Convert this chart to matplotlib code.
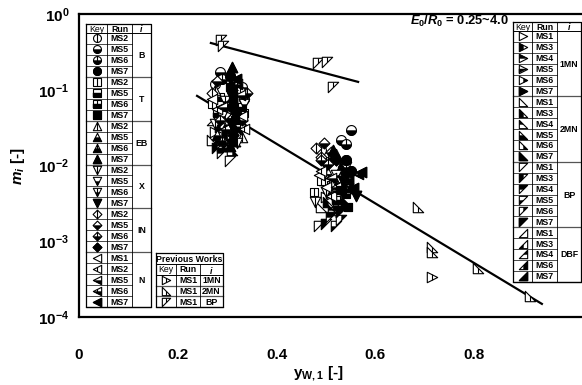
import numpy as np
import matplotlib
matplotlib.use('Agg')
import matplotlib.pyplot as plt
from matplotlib.path import Path
from matplotlib.ticker import NullLocator

# ---- data ----
# current work, left key table (shape by i, fill by run)
b_runs = ['MS2', 'MS5', 'MS6', 'MS7']
b_x = [[0.275, 0.335, 0.49, 0.50], [0.285, 0.33, 0.55, 0.53],
       [0.29, 0.335, 0.54, 0.515], [0.305, 0.31, 0.31, 0.54, 0.55]]
b_y = [[0.12, 0.09, 0.016, 0.011], [0.17, 0.11, 0.029, 0.022],
       [0.14, 0.075, 0.019, 0.013], [0.15, 0.06, 0.10, 0.012, 0.0085]]

t_runs = ['MS2', 'MS5', 'MS6', 'MS7']
t_x = [[0.27, 0.335, 0.475, 0.49], [0.28, 0.325, 0.51, 0.52],
       [0.285, 0.33, 0.525, 0.54], [0.305, 0.315, 0.312, 0.53, 0.545]]
t_y = [[0.065, 0.05, 0.0045, 0.0062], [0.05, 0.035, 0.0055, 0.0035],
       [0.08, 0.06, 0.007, 0.0042], [0.11, 0.04, 0.075, 0.0048, 0.0028]]

eb_runs = ['MS2', 'MS5', 'MS6', 'MS7']
eb_x = [[0.275, 0.33, 0.50, 0.51], [0.28, 0.30, 0.52, 0.53],
        [0.29, 0.31, 0.535, 0.545], [0.31, 0.305, 0.315, 0.515, 0.55]]
eb_y = [[0.10, 0.024, 0.009, 0.0058], [0.025, 0.035, 0.014, 0.0095],
        [0.022, 0.13, 0.011, 0.0068], [0.20, 0.018, 0.045, 0.016, 0.0052]]

x_runs = ['MS2', 'MS5', 'MS6', 'MS7']
x_x = [[0.275, 0.32, 0.478, 0.50], [0.29, 0.335, 0.50, 0.52],
       [0.295, 0.325, 0.54, 0.53], [0.31, 0.315, 0.308, 0.535, 0.56]]
x_y = [[0.035, 0.02, 0.0033, 0.0045], [0.045, 0.065, 0.010, 0.0075],
       [0.07, 0.03, 0.0095, 0.006], [0.08, 0.028, 0.035, 0.0062, 0.004]]

in_runs = ['MS2', 'MS5', 'MS6', 'MS7']
in_x = [[0.27, 0.325, 0.48, 0.49], [0.28, 0.33, 0.495, 0.51],
        [0.285, 0.34, 0.49, 0.505], [0.31, 0.318, 0.312, 0.52, 0.54]]
in_y = [[0.09, 0.10, 0.017, 0.013], [0.13, 0.04, 0.020, 0.015],
        [0.04, 0.09, 0.012, 0.0105], [0.10, 0.05, 0.025, 0.012, 0.0078]]

n_runs = ['MS1', 'MS2', 'MS5', 'MS6', 'MS7']
n_x = [[0.27, 0.33, 0.485, 0.50], [0.28, 0.335, 0.49, 0.51],
       [0.29, 0.325, 0.51, 0.52], [0.295, 0.32, 0.52, 0.565],
       [0.31, 0.318, 0.308, 0.57, 0.555]]
n_y = [[0.075, 0.045, 0.0075, 0.0052], [0.055, 0.03, 0.0085, 0.004],
       [0.06, 0.085, 0.0068, 0.0048], [0.03, 0.12, 0.0052, 0.0078],
       [0.07, 0.14, 0.022, 0.0082, 0.005]]

# current work, right key table
mn1_runs = ['MS1', 'MS3', 'MS4', 'MS5', 'MS6', 'MS7']
mn1_x = [[0.275, 0.50], [0.285, 0.51], [0.29, 0.515], [0.30, 0.525], [0.305, 0.53], [0.315, 0.545]]
mn1_y = [[0.028, 0.0038], [0.032, 0.0044], [0.038, 0.0058], [0.024, 0.0038], [0.045, 0.0032], [0.033, 0.0045]]

mn2_runs = ['MS1', 'MS3', 'MS4', 'MS5', 'MS6', 'MS7']
mn2_x = [[0.27, 0.49], [0.285, 0.505], [0.29, 0.515], [0.30, 0.525], [0.31, 0.535], [0.315, 0.54]]
mn2_y = [[0.022, 0.0028], [0.020, 0.0033], [0.018, 0.0026], [0.026, 0.003], [0.016, 0.0036], [0.021, 0.0033]]

bp_runs = ['MS1', 'MS3', 'MS4', 'MS5', 'MS6', 'MS7']
bp_x = [[0.305, 0.485], [0.28, 0.50], [0.29, 0.51], [0.30, 0.52], [0.31, 0.53], [0.30, 0.53]]
bp_y = [[0.0115, 0.0016], [0.017, 0.0017], [0.0145, 0.0021], [0.019, 0.0016], [0.023, 0.0019], [0.027, 0.0024]]

dbf_runs = ['MS1', 'MS3', 'MS4', 'MS6', 'MS7']
dbf_x = [[0.27, 0.495], [0.285, 0.505], [0.30, 0.52], [0.31, 0.53], [0.315, 0.545]]
dbf_y = [[0.04, 0.0064], [0.036, 0.0052], [0.042, 0.0042], [0.05, 0.0056], [0.038, 0.0066]]

# previous works (MS1)
prev_i = ['1MN', '2MN', 'BP']
prev_x = [[0.715], [0.686, 0.715, 0.715, 0.808, 0.913], [0.288, 0.292, 0.484, 0.502, 0.514]]
prev_y = [[3.4e-4], [2.8e-3, 8.4e-4, 7.2e-4, 4.4e-4, 1.9e-4], [0.45, 0.38, 0.225, 0.23, 0.109]]

# fitted lines
fit_hi_x = [0.267, 0.565]
fit_hi_y = [0.414, 0.127]
fit_lo_x = [0.239, 0.937]
fit_lo_y = [0.083, 1.49e-4]

# ---- marker shapes ----
ang = np.linspace(0, 2 * np.pi, 41)[:-1]
SHAPES = {
    'o': list(zip(np.cos(ang), np.sin(ang))),
    's': [(-1, -1), (1, -1), (1, 1), (-1, 1)],
    '^': [(0, 1), (-1, -1), (1, -1)],
    'v': [(0, -1), (1, 1), (-1, 1)],
    'D': [(0, 1), (1, 0), (0, -1), (-1, 0)],
    '<': [(-1, 0), (1, -1), (1, 1)],
    '>': [(1, 0), (-1, 1), (-1, -1)],
    '2MN': [(-1, -1), (1, -1), (-1, 1)],
    'BP': [(-1, 1), (1, 1), (-1, -1)],
    'DBF': [(1, -1), (1, 1), (-1, -1)],
}
SIZE = {'s': 0.85, 'D': 1.05, 'o': 0.95}

LEFT_STYLE = {'MS1': 'open', 'MS2': 'line', 'MS5': 'bottom', 'MS6': 'bline', 'MS7': 'full'}
RIGHT_STYLE = {'MS1': 'open', 'MS3': 'left', 'MS4': 'top', 'MS5': 'bottom', 'MS6': 'right', 'MS7': 'full'}


def poly_path(pts, closed=True):
    verts = list(pts)
    if closed:
        codes = [Path.MOVETO] + [Path.LINETO] * (len(verts) - 1) + [Path.CLOSEPOLY]
        verts = verts + [verts[0]]
    else:
        codes = [Path.MOVETO] + [Path.LINETO] * (len(verts) - 1)
    # keep the same scaling for every part of a marker
    verts = verts + [(1, 1)]
    codes = codes + [Path.MOVETO]
    return Path(verts, codes)


def clip(poly, side):
    f = {'left': lambda p: -p[0], 'right': lambda p: p[0],
         'bottom': lambda p: -p[1], 'top': lambda p: p[1]}[side]
    out = []
    for k in range(len(poly)):
        a, b = poly[k], poly[(k + 1) % len(poly)]
        fa, fb = f(a), f(b)
        if fa >= 0:
            out.append(a)
        if (fa >= 0) != (fb >= 0):
            t = fa / (fa - fb)
            out.append((a[0] + t * (b[0] - a[0]), a[1] + t * (b[1] - a[1])))
    return out


def vseg(poly):
    ys = []
    for a, b in zip(poly, poly[1:] + poly[:1]):
        if a[0] != b[0] and a[0] * b[0] <= 0:
            t = -a[0] / (b[0] - a[0])
            ys.append(a[1] + t * (b[1] - a[1]))
    return [(0, min(ys)), (0, max(ys))]


def draw(ax, x, y, shape, style, ms, z=3):
    poly = SHAPES[shape]
    ms = ms * SIZE.get(shape, 1.0)
    kw = dict(ls='none', ms=ms, zorder=z)
    ax.plot(x, y, marker=poly_path(poly), mfc='white', mec='black', mew=0.8, **kw)
    if style == 'full':
        ax.plot(x, y, marker=poly_path(poly), mfc='black', mec='black', mew=0.8, **kw)
    elif style in ('left', 'right', 'top', 'bottom', 'bline'):
        side = 'bottom' if style == 'bline' else style
        ax.plot(x, y, marker=poly_path(clip(poly, side)), mfc='black', mec='black', mew=0.3, **kw)
    if style in ('line', 'bline'):
        ax.plot(x, y, marker=poly_path(vseg(poly), closed=False), mfc='none', mec='black', mew=0.8, **kw)


# ---- figure ----
plt.rcParams['font.family'] = 'Liberation Sans'
plt.rcParams['mathtext.fontset'] = 'custom'
plt.rcParams['mathtext.rm'] = 'Liberation Sans:bold'
plt.rcParams['mathtext.bf'] = 'Liberation Sans:bold'
plt.rcParams['mathtext.it'] = 'Liberation Sans:italic:bold'

fig = plt.figure(figsize=(5.82, 3.85), dpi=100)
ax = fig.add_axes([79 / 582, 68 / 385, 503 / 582, 303 / 385])
ax.set_yscale('log')
ax.set_ylim(1e-4, 1)
ax.set_xlim(0, 503 / 494)
ax.yaxis.set_minor_locator(NullLocator())
for s in ax.spines.values():
    s.set_linewidth(1.6)
ax.spines['right'].set_visible(False)
ax.set_xticks([0, 0.2, 0.4, 0.6, 0.8])
ax.set_xticklabels(['0', '0.2', '0.4', '0.6', '0.8'], fontweight='bold')
ax.set_yticks([1e-4, 1e-3, 1e-2, 1e-1, 1])
ax.set_yticklabels([r'$10^{-4}$', r'$10^{-3}$', r'$10^{-2}$', r'$10^{-1}$', r'$10^{0}$'])
ax.tick_params(axis='x', length=0, labelsize=11, pad=22)
ax.tick_params(axis='y', length=0, labelsize=11, pad=7)

ax.plot(fit_hi_x, fit_hi_y, color='black', lw=1.6, zorder=2)
ax.plot(fit_lo_x, fit_lo_y, color='black', lw=1.6, zorder=2)

MS = 7.5
right_groups = [('1MN', '>', mn1_runs, mn1_x, mn1_y), ('2MN', '2MN', mn2_runs, mn2_x, mn2_y),
                ('BP', 'BP', bp_runs, bp_x, bp_y), ('DBF', 'DBF', dbf_runs, dbf_x, dbf_y)]
left_groups = [('B', 'o', b_runs, b_x, b_y), ('T', 's', t_runs, t_x, t_y),
               ('EB', '^', eb_runs, eb_x, eb_y), ('X', 'v', x_runs, x_x, x_y),
               ('IN', 'D', in_runs, in_x, in_y), ('N', '<', n_runs, n_x, n_y)]

for name, shp, runs, xs, ys in right_groups:
    for r, xx, yy in zip(runs, xs, ys):
        draw(ax, xx, yy, shp, RIGHT_STYLE[r], MS, z=3)
for name, shp, runs, xs, ys in left_groups:
    for r, xx, yy in zip(runs, xs, ys):
        draw(ax, xx, yy, shp, LEFT_STYLE[r], MS, z=4 if r == 'MS7' else 3)
for shp, xx, yy in zip(['>', '2MN', 'BP'], prev_x, prev_y):
    draw(ax, xx, yy, shp, 'line', MS, z=3)

# ---- overlay in pixel units for labels and key tables ----
ov = fig.add_axes([0, 0, 1, 1], zorder=5)
ov.set_xlim(0, 582)
ov.set_ylim(385, 0)
ov.axis('off')

ov.text(18, 166, r'$m_i$ [-]', rotation=90, ha='center', va='center', fontsize=11, fontweight='bold')
ov.text(318, 374, r'$\mathrm{y}_{\mathrm{W,1}}$ [-]', ha='center', va='center', fontsize=11, fontweight='bold')
ov.text(459, 21, r'$E_0/R_0$ = 0.25~4.0', ha='center', va='center', fontsize=9.3, fontweight='bold')

TFS = 6.3


def table(cols, top, head_h, row_h, groups, styles, title=None):
    x0, x1, x2, x3 = cols
    y = top
    rows = sum(len(g[2]) for g in groups)
    bottom = top + head_h + rows * row_h + (head_h if title else 0)
    ov.fill([x0, x3, x3, x0], [top, top, bottom, bottom], color='white', zorder=1)
    if title:
        ov.text((x0 + x3) / 2, y + head_h / 2 + 0.5, title, ha='center', va='center', fontsize=TFS, fontweight='bold')
        y += head_h
        ov.plot([x0, x3], [y, y], color='black', lw=0.7)
    ov.text((x0 + x1) / 2, y + head_h / 2 + 0.5, 'Key', ha='center', va='center', fontsize=TFS)
    ov.text((x1 + x2) / 2, y + head_h / 2 + 0.5, 'Run', ha='center', va='center', fontsize=TFS, fontweight='bold')
    ov.text((x2 + x3) / 2, y + head_h / 2 + 0.5, r'$i$', ha='center', va='center', fontsize=TFS)
    y += head_h
    ov.plot([x0, x3], [y, y], color='black', lw=0.7)
    for name, shp, runs in groups:
        g0 = y
        for k, r in enumerate(runs):
            yc = y + row_h / 2
            draw(ov, [(x0 + x1) / 2], [yc], shp, styles[r], 6.0, z=6)
            ov.text((x1 + x2) / 2, yc + 0.5, r, ha='center', va='center', fontsize=TFS, fontweight='bold')
            y += row_h
            if k < len(runs) - 1:
                ov.plot([x0, x2], [y, y], color='black', lw=0.5)
        ov.text((x2 + x3) / 2, (g0 + y) / 2 + 0.5, name, ha='center', va='center', fontsize=TFS, fontweight='bold')
        ov.plot([x0, x3], [y, y], color='#555555', lw=0.9)
    ytop = top + (head_h if title else 0)
    ov.plot([x1, x1], [ytop, bottom], color='black', lw=0.6)
    ov.plot([x2, x2], [ytop, bottom], color='black', lw=0.6)
    ov.plot([x0, x3, x3, x0, x0], [top, top, bottom, bottom, top], color='black', lw=0.9)


table([86, 107, 132, 151], 24, 9, 10.96,
      [(g[0], g[1], g[2]) for g in left_groups], LEFT_STYLE)
table([513, 532, 557, 581], 22, 9, 10.9,
      [(g[0], g[1], g[2]) for g in right_groups], RIGHT_STYLE)
table([156, 176, 200, 223], 253, 11, 10.7,
      [(i, s, ['MS1']) for i, s in zip(prev_i, ['>', '2MN', 'BP'])],
      {'MS1': 'line'}, title='Previous Works')

fig.savefig('out.png', dpi=100)
